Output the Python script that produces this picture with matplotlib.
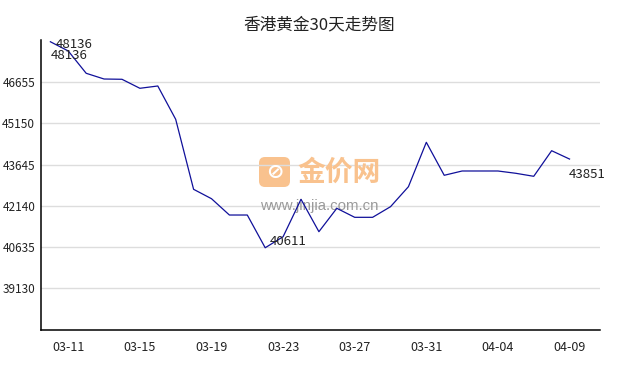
import numpy as np
import matplotlib.pyplot as plt
from matplotlib.patches import FancyBboxPatch


# Chart data
dates = [
    '03-10', '03-11', '03-12', '03-13', '03-14', '03-15', '03-16', '03-17',
    '03-18', '03-19', '03-20', '03-21', '03-22', '03-23', '03-24', '03-25',
    '03-26', '03-27', '03-28', '03-29', '03-30', '03-31', '04-01', '04-02',
    '04-03', '04-04', '04-06', '04-07', '04-08', '04-09',
]
prices = [
    48136, 47798, 46984, 46775, 46765, 46436, 46520, 45303, 42746, 42403,
    41807, 41807, 40611, 41015, 42381, 41198, 42052, 41723, 41723, 42111,
    42841, 44463, 43258, 43415, 43415, 43415, 43331, 43221, 44156, 43851,
]
y_ticks = [39130, 40635, 42140, 43645, 45150, 46655]
title = '香港黄金30天走势图'

plt.rcParams['font.family'] = ['Noto Sans CJK SC', 'DejaVu Sans']

fig = plt.figure(figsize=(6.38, 3.70), dpi=100)
ax = fig.add_axes([0.0638, 0.1073, 0.8766, 0.7846])

x = np.arange(len(prices))
ax.plot(x, prices, color='#10109a', linewidth=0.9, zorder=3)

ax.set_xlim(-0.54, 30.7)
ax.set_ylim(37596, 48200)

# Ticks and grid
ax.set_yticks(y_ticks)
ax.set_yticklabels([str(v) for v in y_ticks], fontsize=8.5)
tick_idx = list(range(1, len(dates), 4))
ax.set_xticks(tick_idx)
ax.set_xticklabels([dates[i] for i in tick_idx], fontsize=9)
ax.tick_params(axis='both', length=0, colors='#222222')
ax.tick_params(axis='y', pad=4)
ax.tick_params(axis='x', pad=8)
ax.grid(axis='y', color='#dddddd', linewidth=1)
ax.set_axisbelow(True)

for side in ('top', 'right'):
    ax.spines[side].set_visible(False)
for side in ('left', 'bottom'):
    ax.spines[side].set_linewidth(1.1)
    ax.spines[side].set_color('black')

# Value labels
i_max = int(np.argmax(prices))
i_min = int(np.argmin(prices))
i_last = len(prices) - 1
lab = dict(textcoords='offset pixels', fontsize=9.5, color='#222222',
           ha='left', va='center', zorder=4)
ax.annotate(str(prices[i_max]), (i_max, prices[i_max]), xytext=(5, -3), **lab)
ax.annotate(str(prices[0]), (0, prices[0]), xytext=(0, -14), **lab)
ax.annotate(str(prices[i_min]), (i_min, prices[i_min]), xytext=(5, 6), **lab)
ax.annotate(str(prices[i_last]), (i_last, prices[i_last]), xytext=(-1, -15), **lab)

# Watermark
icon = FancyBboxPatch((2.62, 1.86), 0.25, 0.24, boxstyle='round,pad=0.03,rounding_size=0.06',
                      transform=fig.dpi_scale_trans, facecolor='#f9c28e',
                      edgecolor='none', zorder=0.5)
ax.add_patch(icon)
ax.text(2.745, 1.98, '⊘', transform=fig.dpi_scale_trans, fontsize=15,
        color='white', ha='center', va='center', fontweight='bold',
        family=['DejaVu Sans'], zorder=0.6)
ax.text(2.97, 1.975, '金价网', transform=fig.dpi_scale_trans, fontsize=20,
        color='#f9c28e', ha='left', va='center', fontweight='bold', zorder=0.6)
ax.text(2.60, 1.64, 'www.jinjia.com.cn', transform=fig.dpi_scale_trans,
        fontsize=10.8, color='#9a9a9a', ha='left', va='center',
        family=['Liberation Sans'], zorder=0.6)

fig.text(319 / 638, 1 - 25 / 370, title, ha='center', va='center',
         fontsize=12, color='#222222')

fig.savefig('out.png', dpi=100)
